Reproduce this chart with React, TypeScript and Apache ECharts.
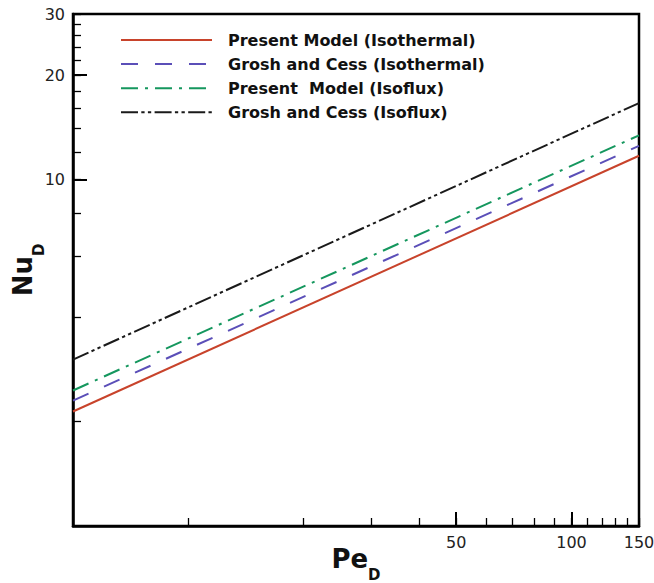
import React, { useEffect, useRef } from "react";
import * as echarts from "echarts";

// Péclet number range (x) and Nusselt values (y) read at both ends of each line
const peValues = [5, 150];
const nuPresentIsothermal = [2.14, 11.7];
const nuGroshIsothermal = [2.3, 12.5];
const nuPresentIsoflux = [2.46, 13.4];
const nuGroshIsoflux = [3.02, 16.6];

const seriesNames = [
  "Present Model (Isothermal)",
  "Grosh and Cess (Isothermal)",
  "Present  Model (Isoflux)",
  "Grosh and Cess (Isoflux)",
];

const xMajorTicks = [50, 100, 150];
const xMinorTicks = [10, 20, 30, 40, 60, 70, 80, 90, 110, 120, 130, 140];
const yMajorTicks = [10, 20, 30];
const yMinorTicks = [2, 4, 6, 8, 12, 14, 16, 18, 22, 24, 26, 28];

const FONT = "DejaVu Sans";

function pairs(xs: number[], ys: number[]) {
  return xs.map((x, i) => [x, ys[i]]);
}

export default function App() {
  const ref = useRef<HTMLDivElement>(null);
  useEffect(() => {
    if (!ref.current) return;
    const chart = echarts.init(ref.current, undefined, { renderer: "svg" });
    const lineSeries = (name: string, ys: number[], color: string, type: any) => ({
      name,
      type: "line",
      xAxisIndex: 0,
      yAxisIndex: 0,
      data: pairs(peValues, ys),
      symbol: "none",
      lineStyle: { color, width: 2, type },
      itemStyle: { color },
    });
    const axisCommonX = {
      type: "log",
      logBase: 10,
      min: 5,
      max: 150,
      position: "bottom",
      splitLine: { show: false },
    };
    const axisCommonY = {
      type: "log",
      logBase: 10,
      min: 1,
      max: 30,
      position: "left",
      splitLine: { show: false },
    };
    chart.setOption({
      animation: false,
      backgroundColor: "#fff",
      grid: {
        left: 73,
        right: 15,
        top: 14,
        bottom: 57,
        show: true,
        borderColor: "#000",
        borderWidth: 2.5,
        backgroundColor: "transparent",
        containLabel: false,
        outerBoundsMode: "none",
      },
      legend: {
        orient: "vertical",
        left: 120,
        top: 32,
        padding: 0,
        itemWidth: 91,
        itemHeight: 14,
        itemGap: 8.1,
        itemStyle: { opacity: 0 },
        textStyle: {
          fontFamily: FONT,
          fontWeight: "bold",
          fontSize: 16,
          lineHeight: 14,
          color: "#111",
          padding: [0, 0, 0, 11],
        },
        data: seriesNames,
      },
      xAxis: [
        {
          ...axisCommonX,
          name: "{a|Pe}{b|D}",
          nameLocation: "middle",
          nameGap: 20,
          nameMoveOverlap: false,
          nameTextStyle: {
            rich: {
              a: { fontFamily: FONT, fontWeight: "bold", fontSize: 26, lineHeight: 26, verticalAlign: "top", color: "#111" },
              b: { fontFamily: FONT, fontWeight: "bold", fontSize: 15, lineHeight: 36, verticalAlign: "bottom", color: "#111" },
            },
          },
          axisLine: { show: true, lineStyle: { color: "#000", width: 2.5 } },
          axisTick: { show: true, inside: true, length: 14, customValues: xMajorTicks, lineStyle: { color: "#000", width: 2 } },
          axisLabel: { show: true, customValues: xMajorTicks, margin: 8, fontFamily: FONT, fontSize: 16, color: "#222" },
        },
        {
          ...axisCommonX,
          axisLine: { show: false },
          axisTick: { show: true, inside: true, length: 8, customValues: [...xMinorTicks, ...xMajorTicks], lineStyle: { color: "#000", width: 1.3 } },
          axisLabel: { show: false },
        },
      ],
      yAxis: [
        {
          ...axisCommonY,
          name: "{a|Nu}{b|D}",
          nameLocation: "middle",
          nameRotate: 90,
          nameGap: 27,
          nameMoveOverlap: false,
          nameTextStyle: {
            rich: {
              a: { fontFamily: FONT, fontWeight: "bold", fontSize: 26, lineHeight: 26, verticalAlign: "top", color: "#111" },
              b: { fontFamily: FONT, fontWeight: "bold", fontSize: 15, lineHeight: 36, verticalAlign: "bottom", color: "#111" },
            },
          },
          axisLine: { show: true, lineStyle: { color: "#000", width: 2.5 } },
          axisTick: { show: true, inside: true, length: 14, customValues: yMajorTicks, lineStyle: { color: "#000", width: 2 } },
          axisLabel: { show: true, customValues: yMajorTicks, margin: 8, fontFamily: FONT, fontSize: 16, color: "#222" },
        },
        {
          ...axisCommonY,
          axisLine: { show: false },
          axisTick: { show: true, inside: true, length: 8, customValues: [...yMinorTicks, ...yMajorTicks], lineStyle: { color: "#000", width: 1.3 } },
          axisLabel: { show: false },
        },
      ],
      series: [
        lineSeries(seriesNames[0], nuPresentIsothermal, "#c8432b", "solid"),
        lineSeries(seriesNames[1], nuGroshIsothermal, "#5b4fb8", [17, 17]),
        lineSeries(seriesNames[2], nuPresentIsoflux, "#15975e", [17, 7, 3, 7]),
        lineSeries(seriesNames[3], nuGroshIsoflux, "#1a1a1a", [17, 3.3, 3.3, 3.3, 3.3, 3.4]),
      ],
    });
    return () => chart.dispose();
  }, []);
  return (
    <div
      ref={ref}
      style={{ position: "fixed", left: 0, top: 0, width: 654, height: 583 }}
    />
  );
}
